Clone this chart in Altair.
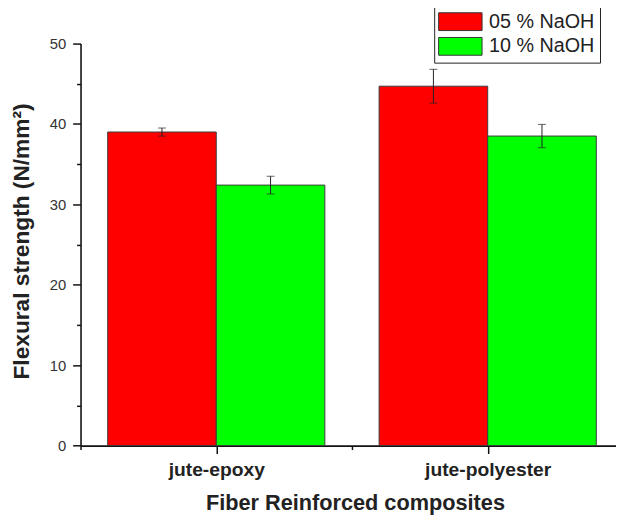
import altair as alt
import pandas as pd

categories = ["jute-epoxy", "jute-polyester"]
series = ["05 % NaOH", "10 % NaOH"]
naoh05 = [39.0, 44.7]
naoh05_err = [0.5, 2.1]
naoh10 = [32.4, 38.5]
naoh10_err = [1.1, 1.45]
colors = ["#ff0000", "#00ff00"]
y_ticks = [0, 5, 10, 15, 20, 25, 30, 35, 40, 45, 50]
x_ticks = [0.5, 1, 1.5, 2]

values = [naoh05, naoh10]
errors = [naoh05_err, naoh10_err]
rows = []
for i, cat in enumerate(categories):
    pos = i + 1
    for j, s in enumerate(series):
        start = pos - 0.4 + 0.4 * j
        v = values[j][i]
        e = errors[j][i]
        rows.append({"category": cat, "series": s, "x0": start, "x1": start + 0.4,
                     "xc": start + 0.2, "value": v, "lo": v - e, "hi": v + e})
df = pd.DataFrame(rows)

FONT = "Liberation Sans"
xscale = alt.Scale(domain=[0.5, 2.4727], nice=False, zero=False)
yscale = alt.Scale(domain=[0, 50], nice=False)

label_expr = " : ".join(
    [f"datum.value == {i+1} ? '{c}'" for i, c in enumerate(categories)]) + " : ''"

xaxis = alt.Axis(
    values=x_ticks, labelExpr=label_expr, title="Fiber Reinforced composites",
    grid=False, domainColor="#111", domainWidth=1.6, tickColor="#111", tickWidth=1.5,
    tickSize={"condition": {"test": "datum.value % 1 == 0", "value": 8}, "value": 4},
    labelFont=FONT, labelFontSize=19.5, labelFontWeight="bold", labelColor="#222",
    labelPadding=7, labelFlush=False, labelOverlap=False,
    titleFont=FONT, titleFontSize=22, titleFontWeight="bold", titleColor="#222",
    titleX=278, titleY=64.7, titleBaseline="alphabetic", titleAlign="center", titleAnchor="middle",
)
yaxis = alt.Axis(
    values=y_ticks, labelExpr="datum.value % 10 == 0 ? datum.label : ''",
    title="Flexural strength (N/mm²)",
    grid=False, domainColor="#111", domainWidth=1.6, tickColor="#111", tickWidth=1.5,
    tickSize={"condition": {"test": "datum.value % 10 == 0", "value": 8}, "value": 4},
    labelFont=FONT, labelFontSize=15, labelColor="#333", labelPadding=7,
    labelFlush=False, labelOverlap=False,
    titleFont=FONT, titleFontSize=23, titleFontWeight="bold", titleColor="#222",
    titleX=-53, titleY=200, titleBaseline="alphabetic", titleAlign="center", titleAngle=270,
)

base = alt.Chart(df)

bars = base.mark_bar(stroke="#3a3a3a", strokeWidth=1).encode(
    x=alt.X("x0:Q", scale=xscale, axis=xaxis),
    x2="x1:Q",
    y=alt.Y("value:Q", scale=yscale, axis=yaxis),
    y2=alt.datum(0),
    color=alt.Color("series:N", scale=alt.Scale(domain=series, range=colors),
                    legend=alt.Legend(
                        title=None, orient="none", legendX=358.3, legendY=-37.7,
                        padding=5.5, strokeColor="#222", fillColor="white",
                        symbolType="M-2.444,-1L2.444,-1L2.444,1L-2.444,1Z",
                        symbolSize=324, symbolStrokeColor="#333", symbolStrokeWidth=1,
                        symbolOpacity=1, symbolOffset=11,
                        labelFont=FONT, labelFontSize=20, labelColor="#222",
                        labelOffset=19, rowPadding=3)),
)

rules = base.mark_rule(color="#222", strokeWidth=1).encode(
    x=alt.X("xc:Q", scale=xscale, axis=xaxis),
    y=alt.Y("lo:Q", scale=yscale, axis=yaxis),
    y2="hi:Q",
)
cap_lo = base.mark_tick(orient="horizontal", size=8, thickness=1, color="#222").encode(
    x=alt.X("xc:Q", scale=xscale, axis=xaxis),
    y=alt.Y("lo:Q", scale=yscale, axis=yaxis),
)
cap_hi = base.mark_tick(orient="horizontal", size=8, thickness=1, color="#222").encode(
    x=alt.X("xc:Q", scale=xscale, axis=xaxis),
    y=alt.Y("hi:Q", scale=yscale, axis=yaxis),
)

chart = alt.layer(bars, rules, cap_lo, cap_hi).properties(
    width=542.5, height=407.3,
    autosize="none",
    padding={"left": 73.5, "top": 32.7, "right": 0, "bottom": 70},
    background="white",
).configure_view(stroke=None)

chart.save("out.html", embed_options={"renderer": "svg", "actions": False})
